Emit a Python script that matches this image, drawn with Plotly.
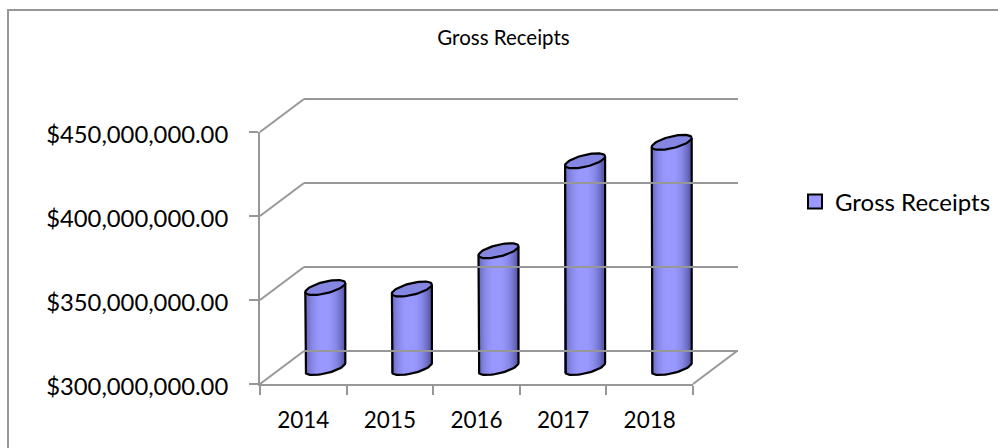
import numpy as np
import plotly.graph_objects as go

years = [2014, 2015, 2016, 2017, 2018]
receipts = [347.6e6, 346.7e6, 369.5e6, 423.0e6, 434.0e6]
y_ticks = [300e6, 350e6, 400e6, 450e6]
series_name = "Gross Receipts"
chart_title = "Gross Receipts"

W, H = 998, 448
FONT = "Lato"
GREY = "#979797"
fx = lambda p: p / W
fy = lambda p: 1 - p / H

# front plane and depth of the pseudo-3D box (pixels)
L, R, T, B = 260, 693, 132, 384
DX, DY = 44, -33
per_val = (B - T) / (y_ticks[-1] - y_ticks[0])
per_year = (R - L) / len(years)
xr = [years[0] - .5, years[-1] + .5]
yr = [y_ticks[0], y_ticks[-1]]

# middle plane, where the cylinders stand, padded so that the base can hang below 300M
m_top, m_bot = 100, 381
m_t0, m_b0 = T + DY / 2, B + DY / 2
mid_range = [yr[0] - (m_bot - m_b0) / per_val, yr[1] + (m_t0 - m_top) / per_val]

A_PX, S_PX, B_PX = 20.0, 4.5, 6.0   # half width, tilt, minor half height of a cylinder end
a = A_PX / per_year
s = S_PX / per_val
b = B_PX / per_val

fig = go.Figure()

# front plane carrier, so that the visible axes are drawn
fig.add_trace(go.Scatter(x=years, y=receipts, xaxis="x", yaxis="y", mode="none",
                         showlegend=False, hoverinfo="skip"))
# back plane carrier, gridlines
fig.add_trace(go.Scatter(x=years, y=receipts, xaxis="x3", yaxis="y3", mode="none",
                         showlegend=False, hoverinfo="skip"))

# the data bar, hidden under the shaded strips
fig.add_trace(go.Bar(
    x=years, y=[v - yr[0] for v in receipts], base=yr[0], width=26 / per_year,
    name=series_name, xaxis="x2", yaxis="y2", showlegend=False,
    marker=dict(color="#9999FF", line=dict(width=0)), hoverinfo="skip",
))

# legend entry
fig.add_trace(go.Scatter(
    x=[None], y=[None], mode="markers", name=series_name, xaxis="x2", yaxis="y2",
    marker=dict(symbol="square", size=14, color="#9999FF", line=dict(color="black", width=2)),
))

# shaded strips
u = np.linspace(-1, 1, 41)
um = (u[:-1] + u[1:]) / 2
sx, sb, sh, sc = [], [], [], []
for yr_i, v in zip(years, receipts):
    for t in um:
        root = np.sqrt(1 - t * t)
        lo = yr[0] + s * t - b * root
        hi = v + s * t
        k = abs(t + 0.05) ** 2.4
        c0 = np.array([153, 153, 255])
        c1 = np.array([90, 90, 170])
        c = (c0 + (c1 - c0) * min(k, 1)).astype(int)
        sx.append(yr_i + a * t)
        sb.append(lo)
        sh.append(hi - lo)
        sc.append(f"rgb({c[0]},{c[1]},{c[2]})")
fig.add_trace(go.Bar(
    x=sx, y=sh, base=sb, width=1.3 / per_year, xaxis="x2", yaxis="y2",
    marker=dict(color=sc, line=dict(width=0)), showlegend=False, hoverinfo="skip",
))

# outlines and top ellipses
th = np.linspace(0, 2 * np.pi, 73)
for yr_i, v in zip(years, receipts):
    tx = yr_i + a * np.cos(th)
    ty = v + s * np.cos(th) + b * np.sin(th)
    fig.add_trace(go.Scatter(
        x=tx, y=ty, mode="lines", fill="toself", fillcolor="#8585E2",
        line=dict(color="black", width=2.2), xaxis="x2", yaxis="y2",
        showlegend=False, hoverinfo="skip",
    ))
    half = np.linspace(np.pi, 2 * np.pi, 37)
    ox = np.concatenate([[yr_i - a], yr_i + a * np.cos(half), [yr_i + a]])
    oy = np.concatenate([[v - s], yr[0] + s * np.cos(half) + b * np.sin(half), [v + s]])
    fig.add_trace(go.Scatter(
        x=ox, y=oy, mode="lines", line=dict(color="black", width=2.2),
        xaxis="x2", yaxis="y2", showlegend=False, hoverinfo="skip",
    ))

# box lines: side-wall diagonals, floor edge, chart frame
shapes = [dict(type="rect", xref="paper", yref="paper", x0=fx(8), x1=fx(W + 10),
               y0=fy(10), y1=fy(H + 10), line=dict(color=GREY, width=2), layer="below")]
for v in y_ticks:
    py = B - (v - yr[0]) * per_val
    shapes.append(dict(type="line", xref="paper", yref="paper", x0=fx(L), x1=fx(L + DX),
                       y0=fy(py), y1=fy(py + DY), line=dict(color=GREY, width=2), layer="below"))
shapes.append(dict(type="line", xref="paper", yref="paper", x0=fx(R), x1=fx(R + DX),
                   y0=fy(B), y1=fy(B + DY), line=dict(color=GREY, width=2), layer="below"))

PAD = 3
back_range = [yr[0] - PAD / per_val, yr[1] + PAD / per_val]
tickfont = dict(family=FONT, size=23.8, color="black")
fig.update_layout(
    width=W, height=H, autosize=False,
    margin=dict(l=0, r=0, t=0, b=0, autoexpand=False),
    paper_bgcolor="white", plot_bgcolor="rgba(0,0,0,0)",
    barmode="overlay", bargap=0,
    font=dict(family=FONT, color="black"),
    title=dict(text=chart_title, x=fx(503.5), xref="container", xanchor="center",
               y=fy(38), yref="container", yanchor="middle",
               font=dict(family=FONT, size=20.5, color="black")),
    legend=dict(x=fx(795), y=fy(202), xanchor="left", yanchor="middle",
                font=dict(family=FONT, size=24, color="black"),
                bgcolor="rgba(0,0,0,0)"),
    shapes=shapes,
    # front plane: visible ticks and labels
    xaxis=dict(domain=[fx(L), fx(R)], range=xr, anchor="y", tickmode="array",
               tickvals=years, ticktext=[str(y) for y in years], ticks="",
               ticklabelstandoff=15, tickfont=dict(family=FONT, size=22.5, color="black"),
               showgrid=False, zeroline=False,
               showline=True, linecolor=GREY, linewidth=2,
               minor=dict(tickmode="array", tickvals=[y + .5 for y in [years[0] - 1] + years],
                          ticks="outside", ticklen=9, tickwidth=2, tickcolor=GREY, showgrid=False)),
    yaxis=dict(domain=[fy(B), fy(T)], range=yr, anchor="x", tickmode="array",
               tickvals=y_ticks, tickformat="$,.2f", ticks="outside", ticklen=9,
               tickwidth=2, tickcolor=GREY, ticklabelstandoff=16, ticklabelshift=3, tickfont=tickfont,
               showgrid=False, zeroline=False, showline=True, linecolor=GREY, linewidth=2),
    # mid plane: cylinders
    xaxis2=dict(domain=[fx(L + DX / 2), fx(R + DX / 2)], range=xr, anchor="y2", visible=False),
    yaxis2=dict(domain=[fy(m_bot), fy(m_top)], range=mid_range, anchor="x2", visible=False),
    # back plane: gridlines
    xaxis3=dict(domain=[fx(L + DX), fx(R + DX + 1)], range=xr, anchor="y3",
                showticklabels=False, ticks="", showgrid=False, zeroline=False, showline=False),
    yaxis3=dict(domain=[fy(B + DY + PAD), fy(T + DY - PAD)], range=back_range, anchor="x3",
                tickmode="array", tickvals=y_ticks, showticklabels=False, ticks="",
                gridcolor=GREY, gridwidth=2, zeroline=False, showline=False),
)

fig.write_html("out.html", config=dict(displayModeBar=False),
               post_script="document.body.style.margin='0';")
